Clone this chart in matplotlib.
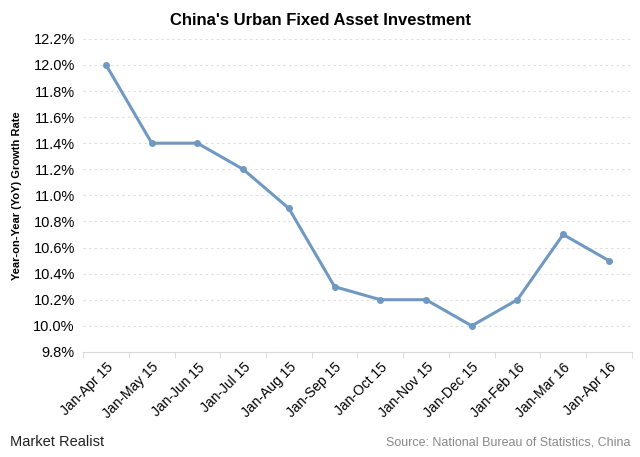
import numpy as np
import matplotlib.pyplot as plt
from matplotlib.ticker import FuncFormatter, FixedLocator

# China urban fixed asset investment, YoY growth (%)
months = ["Jan-Apr 15", "Jan-May 15", "Jan-Jun 15", "Jan-Jul 15", "Jan-Aug 15",
          "Jan-Sep 15", "Jan-Oct 15", "Jan-Nov 15", "Jan-Dec 15", "Jan-Feb 16",
          "Jan-Mar 16", "Jan-Apr 16"]
growth = [12.0, 11.4, 11.4, 11.2, 10.9, 10.3, 10.2, 10.2, 10.0, 10.2, 10.7, 10.5]

plt.rcParams['font.family'] = ['Liberation Sans', 'DejaVu Sans']

fig = plt.figure(figsize=(6.4, 4.57), dpi=100)
ax = fig.add_axes([0.13, 0.23, 0.857, 0.685])

x = np.arange(len(months))
ax.plot(x, growth, color='#7099c2', linewidth=2.2, marker='o', markersize=4)

ax.set_xlim(-0.5, len(months) - 0.5)
ax.set_ylim(9.8, 12.2)
ax.set_yticks(np.arange(9.8, 12.21, 0.2))
ax.yaxis.set_major_formatter(FuncFormatter(lambda v, p: f"{v:.1f}%"))
ax.grid(axis='y', color='#dddddd', linestyle=(0, (2, 3)), linewidth=0.8)
ax.set_axisbelow(True)

ax.set_xticks(x)
ax.set_xticklabels(months, rotation=45, ha='right', rotation_mode='anchor')
ax.xaxis.set_minor_locator(FixedLocator(np.arange(-0.5, len(months), 1)))
ax.tick_params(axis='x', which='major', length=0, labelsize=10, pad=6)
ax.tick_params(axis='x', which='minor', length=4, color='#d8d8d8')
ax.tick_params(axis='y', length=0, labelsize=10.5, pad=6)

for s in ['top', 'right', 'left']:
    ax.spines[s].set_visible(False)
ax.spines['bottom'].set_color('#d8d8d8')

ax.set_ylabel("Year-on-Year (YoY) Growth Rate", fontsize=8, fontweight='bold', labelpad=8)
fig.text(0.5, 0.945, "China's Urban Fixed Asset Investment", ha='center',
         fontsize=12, fontweight='bold')

fig.text(0.015, 0.025, "Market Realist", fontsize=10.5, color='#222222')
fig.text(0.985, 0.025, "Source: National Bureau of Statistics, China", ha='right',
         fontsize=9, color='#888888')

fig.savefig("out.png", dpi=100)
